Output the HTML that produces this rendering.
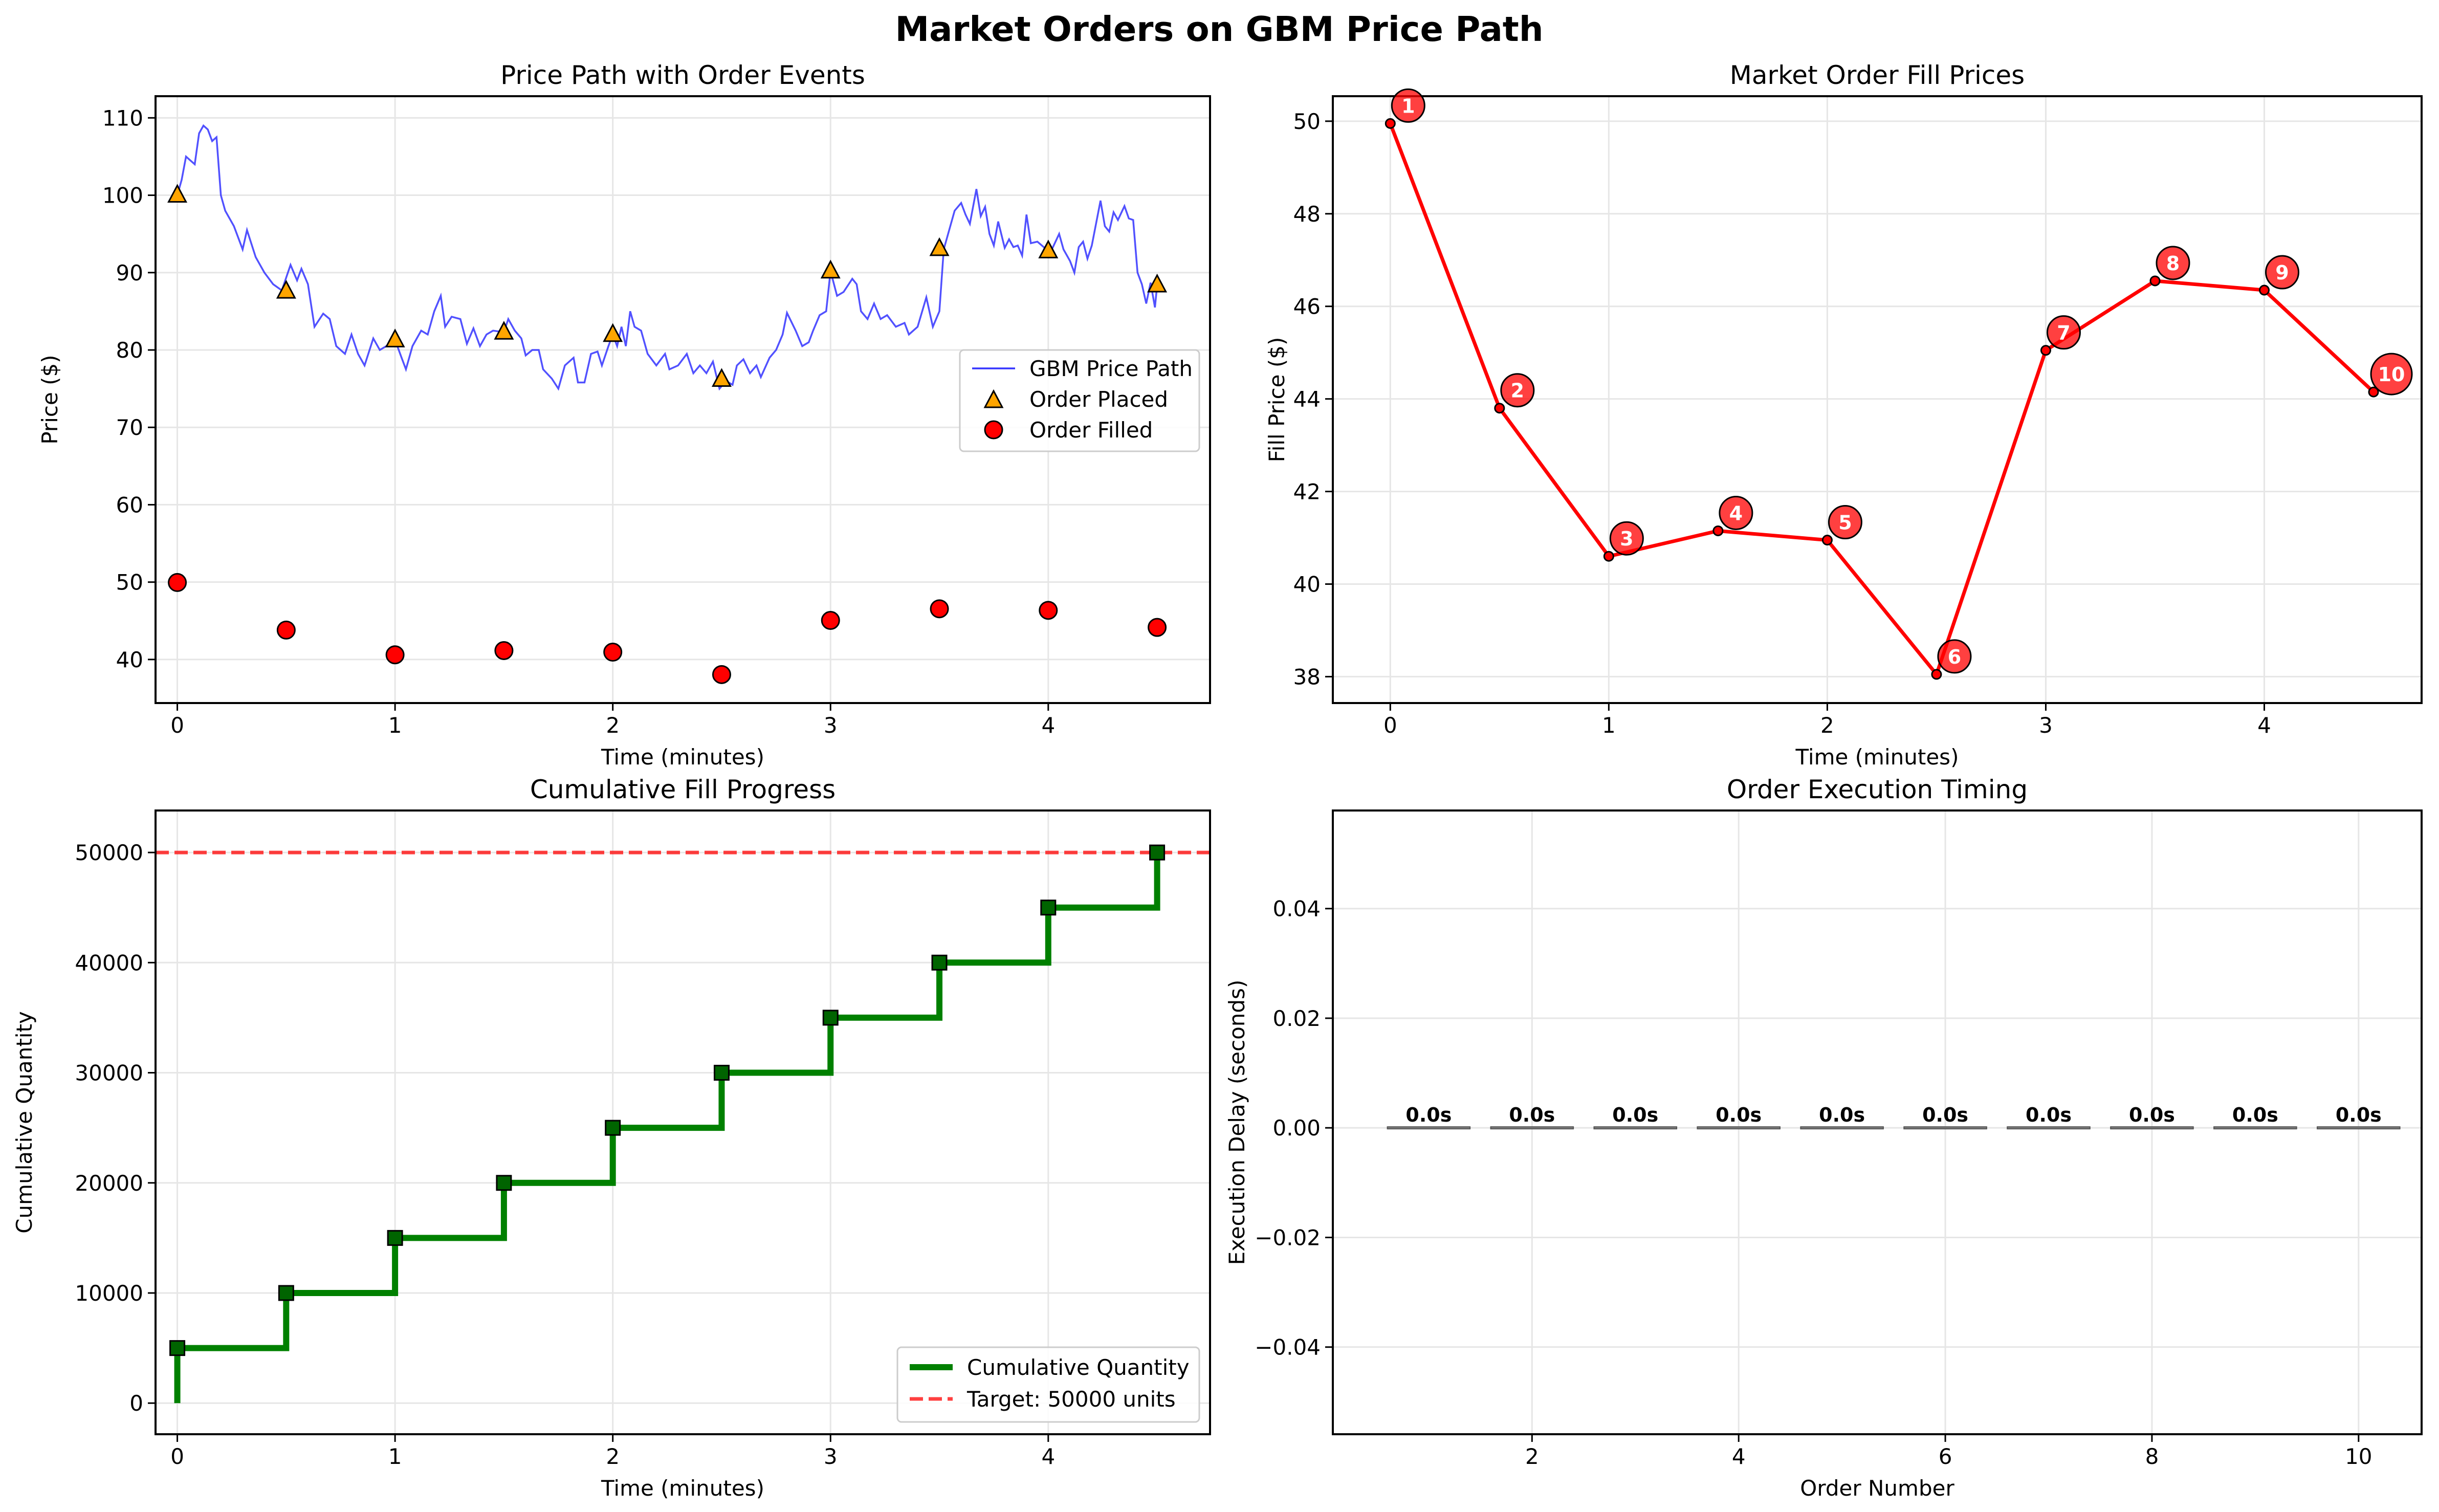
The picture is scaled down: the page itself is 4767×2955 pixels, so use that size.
<!DOCTYPE html>
<html><head><meta charset="utf-8"><style>
html,body{margin:0;padding:0;background:#fff}
svg{display:block;font-family:"DejaVu Sans","Liberation Sans",sans-serif}
</style></head><body>
<svg id="fig" width="4767" height="2955" viewBox="0 0 4767 2955" xmlns="http://www.w3.org/2000/svg">
<rect width="4767" height="2955" fill="#fff"/>
<text x="2383" y="80" font-size="67" font-weight="bold" text-anchor="middle">Market Orders on GBM Price Path</text>
</svg>
<script>
const orderTimes=[0,0.5,1,1.5,2,2.5,3,3.5,4,4.5];
const placedPrices=[100,87.6,81.3,82.3,82,76.2,90.2,93.1,92.8,88.4];
const fillPrices=[49.95,43.8,40.6,41.15,40.95,38.05,45.05,46.55,46.35,44.15];
const cumQty=[5000,10000,15000,20000,25000,30000,35000,40000,45000,50000];
const delays=[0,0,0,0,0,0,0,0,0,0];
const orderNums=[1,2,3,4,5,6,7,8,9,10];
const gbmT=[0,0.02,0.04,0.06,0.08,0.1,0.12,0.14,0.16,0.18,0.2,0.22,0.26,0.3,0.32,0.36,0.4,0.44,0.48,0.52,0.55,0.57,0.6,0.63,0.67,0.7,0.73,0.77,0.8,0.83,0.86,0.9,0.93,0.96,1.0,1.03,1.05,1.08,1.12,1.15,1.18,1.21,1.23,1.26,1.3,1.33,1.36,1.39,1.42,1.45,1.5,1.52,1.55,1.58,1.6,1.63,1.66,1.68,1.72,1.75,1.78,1.82,1.84,1.87,1.9,1.93,1.95,1.98,2.0,2.02,2.04,2.06,2.08,2.1,2.13,2.16,2.2,2.24,2.26,2.3,2.34,2.37,2.4,2.43,2.46,2.49,2.52,2.55,2.57,2.6,2.63,2.66,2.68,2.72,2.75,2.78,2.8,2.84,2.87,2.9,2.92,2.95,2.98,3.0,3.03,3.06,3.1,3.12,3.14,3.17,3.2,3.23,3.26,3.3,3.34,3.36,3.4,3.44,3.47,3.5,3.52,3.55,3.57,3.6,3.62,3.64,3.67,3.69,3.71,3.73,3.75,3.77,3.8,3.82,3.84,3.86,3.88,3.9,3.92,3.95,4.0,4.02,4.05,4.07,4.1,4.12,4.14,4.16,4.18,4.2,4.24,4.26,4.28,4.3,4.32,4.35,4.37,4.39,4.41,4.43,4.45,4.47,4.49,4.5];
const gbmP=[100,102,105,104.5,104,108,109,108.5,107,107.5,100,98,96,93,95.5,92,90,88.5,87.7,91,89,90.5,88.5,83,84.7,84,80.5,79.5,82,79.5,78,81.5,80,80.5,81.3,79,77.5,80.5,82.5,82,85,87,83,84.3,84,80.8,82.8,80.5,82,82.5,82.3,84,82.5,81.5,79.3,80,80,77.5,76.3,75,78,79,75.8,75.8,79.5,79.8,78,80.5,82,80.5,83,80.5,85,83,82.5,79.5,78,79.5,77.5,78,79.5,77,78,77,78.5,75,76,75.5,78,78.8,77,78,76.5,79,80,82,84.8,82.5,80.5,81,82.5,84.5,85,90.2,87,87.5,89.2,88.5,85,84,86,84,84.5,83,83.5,82,83,86.8,83,85,93,96,98,99,97.5,96.3,100.8,97.3,98.5,95,93.5,96.6,93.2,94.3,93.3,93.5,92.2,97.5,93.8,94,92.8,93.2,95,93,91.5,90,93.3,94,91.8,93.5,99.3,96,95.3,97.8,96.8,98.6,97,96.8,90,88.5,86,88.7,85.5,88.4];
const xTicksTime=[0,1,2,3,4];
const yTicksPrice=[40,50,60,70,80,90,100,110];
const yTicksFill=[38,40,42,44,46,48,50];
const yTicksCum=[0,10000,20000,30000,40000,50000];
const xTicksOrder=[2,4,6,8,10];
const yTicksDelay=[-0.04,-0.02,0.00,0.02,0.04];

const NS="http://www.w3.org/2000/svg";
const svg=document.getElementById('fig');
function el(tag,attrs,parent,txt){const e=document.createElementNS(NS,tag);for(const k in attrs)e.setAttribute(k,attrs[k]);if(txt!==undefined)e.textContent=txt;(parent||svg).appendChild(e);return e;}
function lin(d0,d1,r0,r1){return v=>r0+(v-d0)/(d1-d0)*(r1-r0);}

function makeAxes(o){
  const g=el('g',{});
  
  
  const X=lin(o.xd[0],o.xd[1],o.x0,o.x1), Y=lin(o.yd[0],o.yd[1],o.y1,o.y0);
  o.xt.forEach(v=>{const x=X(v);
    const gl=el('line',{x1:x,x2:x,y1:o.y0,y2:o.y1,stroke:'#e6e6e6','stroke-width':3},g);
    el('line',{x1:x,x2:x,y1:o.y1,y2:o.y1+15,stroke:'#000','stroke-width':3},g);
    const t=el('text',{x:x,y:o.y1+58,'font-size':42,'text-anchor':'middle'},g,String(v));
    
    });
  o.yt.forEach(v=>{const y=Y(v);
    el('line',{x1:o.x0,x2:o.x1,y1:y,y2:y,stroke:'#e6e6e6','stroke-width':3},g);
    el('line',{x1:o.x0-15,x2:o.x0,y1:y,y2:y,stroke:'#000','stroke-width':3},g);
    const t=el('text',{x:o.x0-24,y:y+15,'font-size':42,'text-anchor':'end'},g,o.fmt?o.fmt(v):String(v));
    
    });
  const tt=el('text',{x:(o.x0+o.x1)/2,y:o.y0-24,'font-size':50,'text-anchor':'middle'},g,o.title);
  
  
  const xl=el('text',{x:(o.x0+o.x1)/2,y:o.y1+120,'font-size':42,'text-anchor':'middle'},g,o.xlabel);
  
  
  const yl=el('text',{x:o.ylx,y:(o.y0+o.y1)/2,'font-size':42,'text-anchor':'middle',transform:`rotate(-90 ${o.ylx} ${(o.y0+o.y1)/2})`},g,o.ylabel);
  
  
  const clip='c'+Math.round(o.x0)+'_'+Math.round(o.y0);
  const cp=el('clipPath',{id:clip},g);el('rect',{x:o.x0,y:o.y0,width:o.x1-o.x0,height:o.y1-o.y0},cp);
  const plot=el('g',{'clip-path':`url(#${clip})`},g);
  return {g,X,Y,plot,frame:()=>el('rect',{x:o.x0,y:o.y0,width:o.x1-o.x0,height:o.y1-o.y0,fill:'none',stroke:'#000','stroke-width':4},g)};
}

// Panel 1
const a1=makeAxes({name:'price-path-panel',x0:304,x1:2365,y0:188,y1:1374,xd:[-0.1,4.743],yd:[34.37,112.8],xt:xTicksTime,yt:yTicksPrice,title:'Price Path with Order Events',xlabel:'Time (minutes)',ylabel:'Price ($)',ylx:112});
const gp=el('polyline',{points:gbmT.map((t,i)=>a1.X(t)+','+a1.Y(gbmP[i])).join(' '),fill:'none',stroke:'#3333ff','stroke-opacity':0.85,'stroke-width':3.5},a1.plot);


orderTimes.forEach((t,i)=>{const x=a1.X(t),y=a1.Y(placedPrices[i]);
  const tr=el('polygon',{points:`${x},${y-19} ${x-17},${y+13} ${x+17},${y+13}`,fill:'#ffa500',stroke:'#000','stroke-width':3},a1.plot);
  
  
  const c=el('circle',{cx:x,cy:a1.Y(fillPrices[i]),r:17,fill:'#ff0000',stroke:'#000','stroke-width':3},a1.plot);
  
  });
a1.frame();
{const lg=el('g',{});
 
 
 el('rect',{x:1876,y:684,width:468,height:198,rx:8,fill:'#fff','fill-opacity':0.85,stroke:'#ccc','stroke-width':3},lg);
 el('line',{x1:1900,x2:1984,y1:720,y2:720,stroke:'#3333ff','stroke-width':3.5},lg);
 el('text',{x:2012,y:735,'font-size':42},lg,'GBM Price Path');
 el('polygon',{points:'1942,764 1925,796 1959,796',fill:'#ffa500',stroke:'#000','stroke-width':3},lg);
 el('text',{x:2012,y:795,'font-size':42},lg,'Order Placed');
 el('circle',{cx:1942,cy:840,r:17,fill:'#ff0000',stroke:'#000','stroke-width':3},lg);
 el('text',{x:2012,y:855,'font-size':42},lg,'Order Filled');}

// Panel 2
const a2=makeAxes({name:'fill-price-panel',x0:2605,x1:4733,y0:188,y1:1374,xd:[-0.263,4.72],yd:[37.43,50.54],xt:xTicksTime,yt:yTicksFill,title:'Market Order Fill Prices',xlabel:'Time (minutes)',ylabel:'Fill Price ($)',ylx:2510});
const fl=el('polyline',{points:orderTimes.map((t,i)=>a2.X(t)+','+a2.Y(fillPrices[i])).join(' '),fill:'none',stroke:'#ff0000','stroke-width':7},a2.plot);


orderTimes.forEach((t,i)=>{const x=a2.X(t),y=a2.Y(fillPrices[i]);
  const c=el('circle',{cx:x,cy:y,r:9,fill:'#ff0000',stroke:'#000','stroke-width':3},a2.plot);
  
  });
a2.frame();
orderTimes.forEach((t,i)=>{const x=a2.X(t)+35,y=a2.Y(fillPrices[i])-35;const r=orderNums[i]>=10?40:32;
  const c=el('circle',{cx:x,cy:y,r:r,fill:'#ff0000','fill-opacity':0.75,stroke:'#000','stroke-width':3});
  
  
  el('text',{x:x,y:y+14,'font-size':38,'font-weight':'bold',fill:'#fff','text-anchor':'middle'},svg,String(orderNums[i]));});

// Panel 3
const a3=makeAxes({name:'cumulative-panel',x0:304,x1:2365,y0:1584,y1:2803,xd:[-0.1,4.743],yd:[-2825,53814],xt:xTicksTime,yt:yTicksCum,title:'Cumulative Fill Progress',xlabel:'Time (minutes)',ylabel:'Cumulative Quantity',ylx:62});
{let pts=[[a3.X(orderTimes[0]),a3.Y(0)]];let prev=0;
 orderTimes.forEach((t,i)=>{if(i>0)pts.push([a3.X(t),a3.Y(cumQty[i-1])]);pts.push([a3.X(t),a3.Y(cumQty[i])]);});
 const tl=el('line',{x1:304,x2:2365,y1:a3.Y(50000),y2:a3.Y(50000),stroke:'#ff0000','stroke-opacity':0.75,'stroke-width':7,'stroke-dasharray':'26 11'},a3.plot);
 
 
 const sl=el('polyline',{points:pts.map(p=>p.join(',')).join(' '),fill:'none',stroke:'#008000','stroke-width':12},a3.plot);
 
 
 orderTimes.forEach((t,i)=>{const m=el('rect',{x:a3.X(t)-14,y:a3.Y(cumQty[i])-14,width:28,height:28,fill:'#006400',stroke:'#000','stroke-width':3},a3.plot);
  
  });}
a3.frame();
{const lg=el('g',{});
 
 
 el('rect',{x:1754,y:2633,width:590,height:146,rx:8,fill:'#fff','fill-opacity':0.85,stroke:'#ccc','stroke-width':3},lg);
 el('line',{x1:1778,x2:1862,y1:2672,y2:2672,stroke:'#008000','stroke-width':12},lg);
 el('text',{x:1890,y:2687,'font-size':42},lg,'Cumulative Quantity');
 el('line',{x1:1778,x2:1862,y1:2734,y2:2734,stroke:'#ff0000','stroke-opacity':0.75,'stroke-width':7,'stroke-dasharray':'26 11'},lg);
 el('text',{x:1890,y:2749,'font-size':42},lg,'Target: 50000 units');}

// Panel 4
const a4=makeAxes({name:'execution-timing-panel',x0:2605,x1:4733,y0:1584,y1:2803,xd:[0.072,10.61],yd:[-0.0559,0.0579],xt:xTicksOrder,yt:yTicksDelay,fmt:v=>(v<0?'\u2212':'')+Math.abs(v).toFixed(2),title:'Order Execution Timing',xlabel:'Order Number',ylabel:'Execution Delay (seconds)',ylx:2432});
orderNums.forEach((n,i)=>{const x0=a4.X(n-0.4),x1=a4.X(n+0.4),y=a4.Y(delays[i]),y0=a4.Y(0);
  const b=el('rect',{x:x0,y:Math.min(y,y0)-2,width:x1-x0,height:Math.abs(y-y0)+4,fill:'#808080',stroke:'#555','stroke-width':2},a4.plot);
  
  
  el('text',{x:a4.X(n),y:y-12,'font-size':38,'font-weight':'bold','text-anchor':'middle'},a4.plot,delays[i].toFixed(1)+'s');});
a4.frame();
</script>
</body></html>
